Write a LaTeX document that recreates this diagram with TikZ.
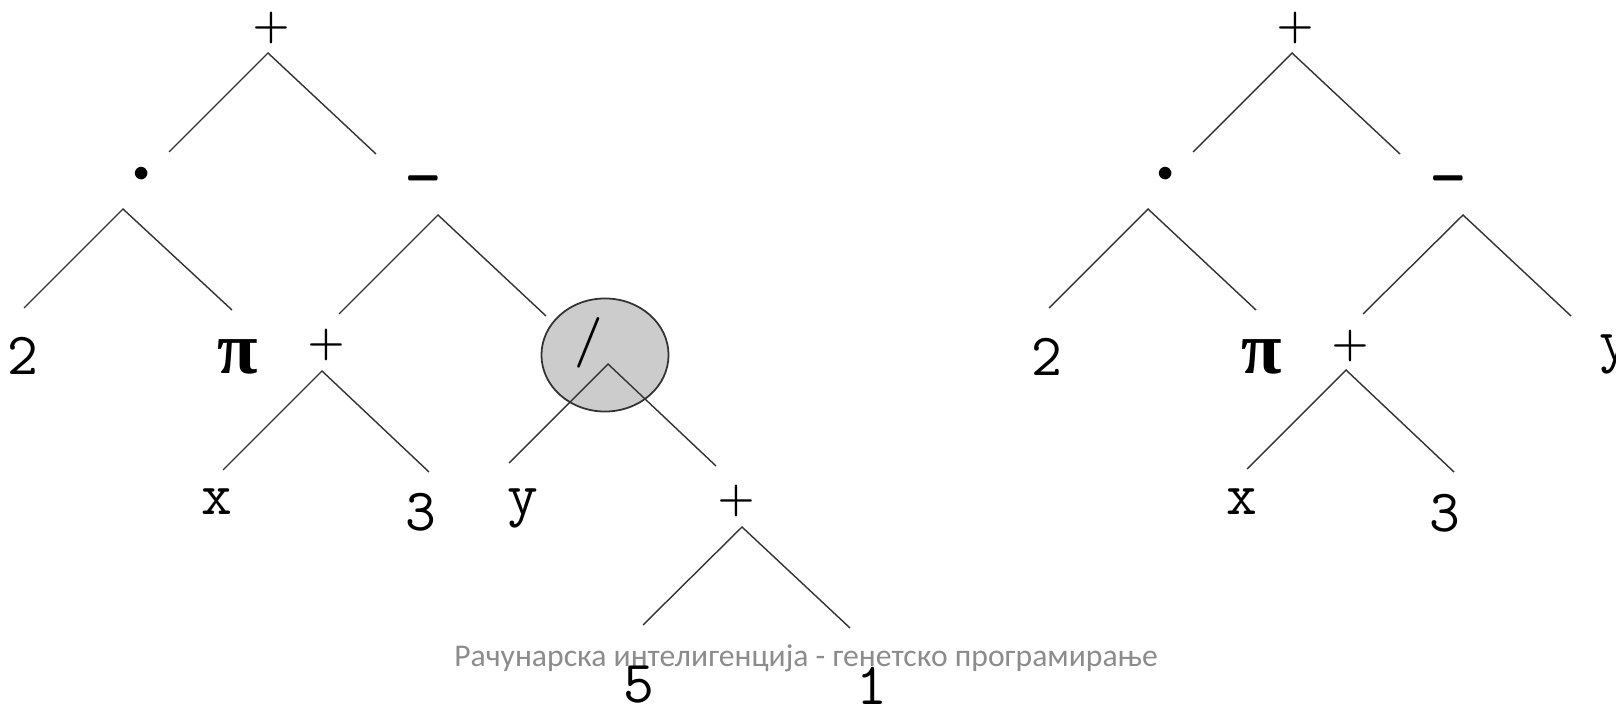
\documentclass[tikz,border=0pt]{standalone}
\usepackage{fontspec}
\usepackage{amsmath}
\usetikzlibrary{shapes.geometric}
\newfontfamily\footfont{Carlito}
\newfontfamily\pifont{Liberation Serif}

\begin{document}
\begin{tikzpicture}[
    x=0.01cm, y=-0.01cm,
    every node/.style={inner sep=0pt, outer sep=0pt},
    leaf/.style={font=\ttfamily\fontsize{17}{20}\selectfont},
    op/.style={font=\fontsize{13}{16}\selectfont},
    pinode/.style={font=\pifont\bfseries\fontsize{21}{24}\selectfont},
    branch/.style={draw=black!80, line width=0.4pt},
    cut/.style={ellipse, draw=black!80, fill=black!20, line width=0.5pt,
minimum width=1.27cm, minimum height=1.13cm}]

    \useasboundingbox (0,0) rectangle (1616,704);

    \node[font=\footfont\fontsize{9}{11}\selectfont, text=black!45, anchor=base] (foot) at (806,666) {Рачунарска интелигенција - генетско програмирање};

    % tree before the cut
    \node[op] (rootL) at (271,28) {$\boldsymbol{+}$};
        \node[op] (mulL) at (142,174) {$\scriptstyle\bullet$};
            \node[leaf] (twoL) at (23,356) {2};
            \node[pinode] (piL) at (238,357) {π};
        \node[op] (minL) at (423,178) {\scalebox{1}[2]{$\boldsymbol{-}$}};
            \node[op] (plusL) at (326,345) {$\boldsymbol{+}$};
                \node[leaf] (xL) at (217,502) {x};
                \node[leaf] (threeL) at (421,512) {3};
            \node[cut] (divL) at (605,355) {};
            \node[op, font=\fontsize{14}{16}\selectfont] (slashL) at ([shift={(-16,-12)}]divL.center) {$\boldsymbol{/}$};
                \node[leaf] (yL) at (523,508) {y};
                \node[op] (plusB) at (736,501) {$\boldsymbol{+}$};
                    \node[leaf] (fiveL) at (639,685) {5};
                    \node[leaf] (oneL) at (872,686) {1};

    \draw[branch] ([shift={(27,-22)}]mulL.center) -- ([shift={(-3,25)}]rootL.center) -- ([shift={(-47,-24)}]minL.center);
    \draw[branch] ([shift={(1,-48)}]twoL.center) -- ([shift={(-19,35)}]mulL.center) -- ([shift={(-6,-47)}]piL.center);
    \draw[branch] ([shift={(13,-31)}]plusL.center) -- ([shift={(15,37)}]minL.center) -- ([shift={(-59,-39)}]divL.center);
    \draw[branch] ([shift={(6,-32)}]xL.center) -- ([shift={(-4,26)}]plusL.center) -- ([shift={(8,-40)}]threeL.center);
    \draw[branch] ([shift={(-14,-45)}]yL.center) -- ([shift={(3,9)}]divL.center) -- ([shift={(-20,-35)}]plusB.center);
    \draw[branch] ([shift={(4,-60)}]fiveL.center) -- ([shift={(6,26)}]plusB.center) -- ([shift={(-22,-58)}]oneL.center);

    % tree after the cut
    \node[op] (rootR) at (1295,28) {$\boldsymbol{+}$};
        \node[op] (mulR) at (1166,174) {$\scriptstyle\bullet$};
            \node[leaf] (twoR) at (1047,357) {2};
            \node[pinode] (piR) at (1262,357) {π};
        \node[op] (minR) at (1448,178) {\scalebox{1}[2]{$\boldsymbol{-}$}};
            \node[op] (plusR) at (1350,346) {$\boldsymbol{+}$};
                \node[leaf] (xR) at (1242,502) {x};
                \node[leaf] (threeR) at (1445,513) {3};
            \node[leaf] (yR) at (1615,354) {y};

    \draw[branch] ([shift={(27,-22)}]mulR.center) -- ([shift={(-3,25)}]rootR.center) -- ([shift={(-48,-24)}]minR.center);
    \draw[branch] ([shift={(2,-49)}]twoR.center) -- ([shift={(-18,35)}]mulR.center) -- ([shift={(-6,-47)}]piR.center);
    \draw[branch] ([shift={(13,-32)}]plusR.center) -- ([shift={(15,37)}]minR.center) -- ([shift={(-44,-38)}]yR.center);
    \draw[branch] ([shift={(5,-33)}]xR.center) -- ([shift={(-4,24)}]plusR.center) -- ([shift={(9,-41)}]threeR.center);

\end{tikzpicture}
\end{document}
